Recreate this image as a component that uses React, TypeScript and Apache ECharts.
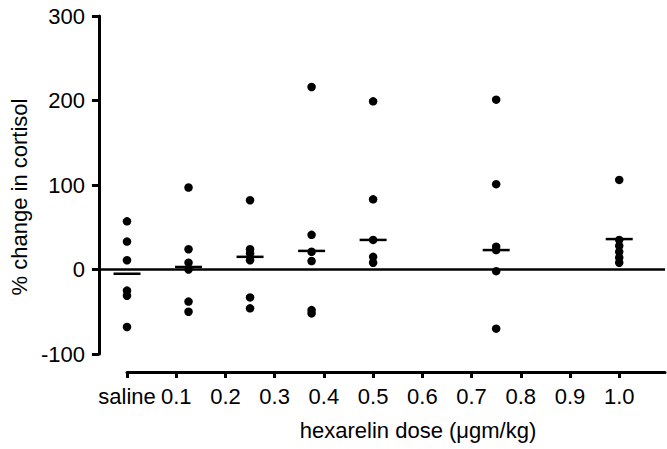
import React, { useEffect, useRef } from "react";
import * as echarts from "echarts";

// dose positions (µg/kg), saline plotted at 0
const DOSES = [0, 0.125, 0.25, 0.375, 0.5, 0.75, 1.0];

// individual % change in cortisol per dose group
const SALINE = [57, 33, 11, -25, -31, -68];
const DOSE_0125 = [97, 24, 8, 0, -38, -50];
const DOSE_025 = [82, 24, 19, 11, -33, -46];
const DOSE_0375 = [216, 41, 21, 10, -48, -52];
const DOSE_05 = [199, 83, 35, 15, 8];
const DOSE_075 = [201, 101, 27, 23, -2, -70];
const DOSE_10 = [106, 35, 28, 21, 14, 8];

// group central values (horizontal bars)
const MEDIANS = [-5, 3, 15, 22, 35, 23, 36];

// x-axis tick positions and labels
const X_TICKS = [0, 0.1, 0.2, 0.3, 0.4, 0.5, 0.6, 0.7, 0.8, 0.9, 1.0];
const X_LABELS = ["saline", "0.1", "0.2", "0.3", "0.4", "0.5", "0.6", "0.7", "0.8", "0.9", "1.0"];

const GROUPS = [SALINE, DOSE_0125, DOSE_025, DOSE_0375, DOSE_05, DOSE_075, DOSE_10];

const FONT = "'Liberation Sans', Arial, Helvetica, sans-serif";

export default function App() {
  const ref = useRef<HTMLDivElement>(null);

  useEffect(() => {
    if (!ref.current) return;
    const chart = echarts.init(ref.current, null, { renderer: "svg" });

    const points: number[][] = [];
    GROUPS.forEach((g, i) => g.forEach((v) => points.push([DOSES[i], v])));
    const medians = MEDIANS.map((m, i) => [DOSES[i], m]);

    const labelFor = (v: number) => {
      const idx = X_TICKS.findIndex((t) => Math.abs(t - v) < 1e-6);
      return idx >= 0 ? X_LABELS[idx] : "";
    };

    chart.setOption({
      animation: false,
      backgroundColor: "#fff",
      grid: [
        { left: 92, right: 2, top: 16, bottom: 95 },
        { left: 127, right: 2, top: 16, bottom: 95 },
      ],
      xAxis: [
        { gridIndex: 0, type: "value", min: 0, max: 1, show: false },
        {
          gridIndex: 1,
          type: "value",
          min: 0,
          max: 1.093,
          offset: 18,
          axisLine: { show: true, onZero: false, lineStyle: { color: "#000", width: 3 } },
          axisTick: { show: true, length: 6, customValues: X_TICKS, lineStyle: { color: "#000", width: 3 } },
          axisLabel: {
            customValues: X_TICKS,
            formatter: (v: number) => labelFor(v),
            fontSize: 22,
            color: "#000",
            fontFamily: FONT,
            margin: 13,
          },
          splitLine: { show: false },
          name: "hexarelin dose (μgm/kg)",
          nameLocation: "middle",
          nameGap: 47,
          nameTextStyle: { fontSize: 22, color: "#000", fontFamily: FONT, padding: [0, 0, 0, 44] },
        },
      ],
      yAxis: [
        {
          gridIndex: 0,
          type: "value",
          min: -100,
          max: 300,
          interval: 100,
          axisLine: { show: true, onZero: false, lineStyle: { color: "#000", width: 3 } },
          axisTick: { show: true, length: 7, lineStyle: { color: "#000", width: 3 } },
          axisLabel: { fontSize: 22, color: "#000", fontFamily: FONT, margin: 14 },
          splitLine: { show: false },
          name: "% change in cortisol",
          nameLocation: "middle",
          nameRotate: 90,
          nameGap: 58,
          nameTextStyle: { fontSize: 22, color: "#000", fontFamily: FONT, padding: [0, 24, 0, 0] },
        },
        { gridIndex: 1, type: "value", min: -100, max: 300, show: false },
      ],
      series: [
        {
          type: "line",
          xAxisIndex: 0,
          yAxisIndex: 0,
          data: [],
          markLine: {
            silent: true,
            symbol: ["none", "none"],
            label: { show: false },
            lineStyle: { color: "#000", width: 2.5, type: "solid" },
            data: [{ yAxis: 0 }],
          },
        },
        {
          type: "scatter",
          xAxisIndex: 1,
          yAxisIndex: 1,
          clip: false,
          symbol: "circle",
          symbolSize: 8.5,
          itemStyle: { color: "#000", opacity: 1 },
          data: points,
          z: 3,
        },
        {
          type: "scatter",
          xAxisIndex: 1,
          yAxisIndex: 1,
          clip: false,
          symbol: "rect",
          symbolSize: [27, 2.5],
          itemStyle: { color: "#000", opacity: 1 },
          data: medians,
          z: 4,
        },
      ],
    });

    return () => chart.dispose();
  }, []);

  return (
    <div
      ref={ref}
      style={{ position: "fixed", left: 0, top: 0, width: 667, height: 449, background: "#fff" }}
    />
  );
}
